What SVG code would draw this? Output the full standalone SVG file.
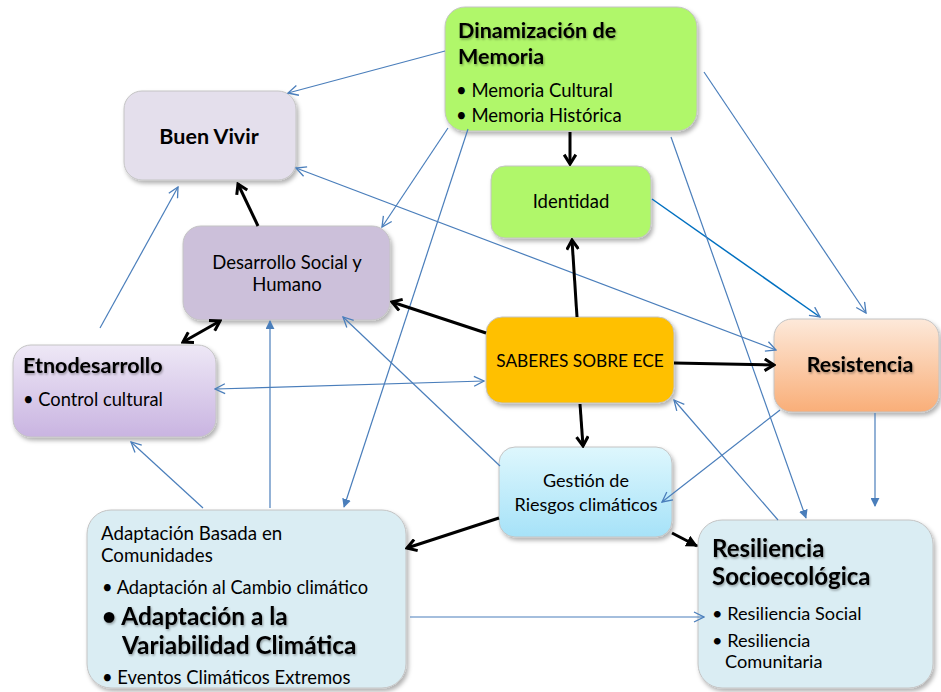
<svg xmlns="http://www.w3.org/2000/svg" width="941" height="692" viewBox="0 0 941 692">
<defs>
<style>
.t{font-family:Lato,"Liberation Sans",sans-serif;fill:#000;}
.b{font-weight:bold;}
.node{stroke:#c4c4c4;stroke-width:1;filter:url(#sh);}
.bl{stroke:#4a7ebb;stroke-width:1.2;fill:none;}
.bk{stroke:#000;stroke-width:3;fill:none;}
</style>
<filter id="sh" x="-10%" y="-10%" width="125%" height="130%">
<feDropShadow dx="2" dy="3" stdDeviation="2" flood-color="#000" flood-opacity="0.3"/>
</filter>
<filter id="ts" x="-5%" y="-20%" width="110%" height="150%">
<feDropShadow dx="1" dy="1.5" stdDeviation="1" flood-color="#000" flood-opacity="0.35"/>
</filter>
<linearGradient id="gEt" x1="0" y1="0" x2="0" y2="1"><stop offset="0" stop-color="#eee8f6"/><stop offset="1" stop-color="#c9b4e1"/></linearGradient>
<linearGradient id="gRe" x1="0" y1="0" x2="0" y2="1"><stop offset="0" stop-color="#fde9da"/><stop offset="1" stop-color="#f9ae78"/></linearGradient>
<linearGradient id="gGe" x1="0" y1="0" x2="0" y2="1"><stop offset="0" stop-color="#def7fd"/><stop offset="1" stop-color="#a6e2f8"/></linearGradient>
<marker id="ab" viewBox="0 0 12 12" refX="11" refY="6" markerWidth="12" markerHeight="12" markerUnits="userSpaceOnUse" orient="auto-start-reverse"><path d="M1,1 L11,6 L1,11" fill="none" stroke="#4a7ebb" stroke-width="1.3"/></marker>
<marker id="abf" viewBox="0 0 10 10" refX="9" refY="5" markerWidth="9" markerHeight="9" markerUnits="userSpaceOnUse" orient="auto-start-reverse"><path d="M0,0 L10,5 L0,10 Z" fill="#4a7ebb"/></marker>
<marker id="ak" viewBox="0 0 12 12" refX="10" refY="6" markerWidth="14" markerHeight="14" markerUnits="userSpaceOnUse" orient="auto-start-reverse"><path d="M2,1 L10,6 L2,11" fill="none" stroke="#000" stroke-width="2.6"/></marker>
<marker id="akf" viewBox="0 0 10 10" refX="9" refY="5" markerWidth="12" markerHeight="12" markerUnits="userSpaceOnUse" orient="auto-start-reverse"><path d="M0,0 L10,5 L0,10 Z" fill="#000"/></marker>
</defs>
<rect width="941" height="692" fill="#fff"/>

<g id="dinamizacion">
<rect class="node" x="445" y="7" width="252" height="124" rx="20" fill="#b0f76b"/>
<text class="t b" x="458" y="38" font-size="21.5" filter="url(#ts)">Dinamización de</text>
<text class="t b" x="458" y="64" font-size="21.5" filter="url(#ts)">Memoria</text>
<text class="t" x="456" y="97" font-size="18.5">• Memoria Cultural</text>
<text class="t" x="456" y="122" font-size="18.5">• Memoria Histórica</text>
</g>

<g id="buenvivir">
<rect class="node" x="124" y="91" width="172" height="89" rx="18" fill="#e4dfec"/>
<text class="t b" x="209" y="144" font-size="21.5" text-anchor="middle">Buen Vivir</text>
</g>

<g id="identidad">
<rect class="node" x="491" y="166" width="160" height="72" rx="14" fill="#b0f76b"/>
<text class="t" x="571" y="208" font-size="18.5" text-anchor="middle">Identidad</text>
</g>

<g id="desarrollo">
<rect class="node" x="183" y="226" width="207" height="94" rx="18" fill="#ccc0da"/>
<text class="t" x="287" y="269" font-size="18.5" text-anchor="middle">Desarrollo Social y</text>
<text class="t" x="287" y="291" font-size="18.5" text-anchor="middle">Humano</text>
</g>

<g id="etnodesarrollo">
<rect class="node" x="13" y="345" width="203" height="92" rx="18" fill="url(#gEt)"/>
<text class="t b" x="23" y="373" font-size="21.5" filter="url(#ts)">Etnodesarrollo</text>
<text class="t" x="23" y="406" font-size="18.3">• Control cultural</text>
</g>

<g id="saberes">
<rect class="node" x="486" y="317" width="188" height="86" rx="16" fill="#ffc000"/>
<text class="t" x="580" y="367" font-size="17.3" text-anchor="middle">SABERES SOBRE ECE</text>
</g>

<g id="resistencia">
<rect class="node" x="774" y="319" width="165" height="93" rx="18" fill="url(#gRe)"/>
<text class="t b" x="860" y="372" font-size="21.4" text-anchor="middle" filter="url(#ts)">Resistencia</text>
</g>

<g id="gestion">
<rect class="node" x="499" y="447" width="173" height="90" rx="16" fill="url(#gGe)"/>
<text class="t" x="586" y="487" font-size="18" text-anchor="middle">Gestión de</text>
<text class="t" x="586" y="511" font-size="18" text-anchor="middle">Riesgos climáticos</text>
</g>

<g id="adaptacion">
<rect class="node" x="87" y="510" width="319" height="178" rx="24" fill="#daedf3"/>
<text class="t" x="101" y="540" font-size="18.7">Adaptación Basada en</text>
<text class="t" x="101" y="562" font-size="18.7">Comunidades</text>
<text class="t" x="102" y="594" font-size="18.3">• Adaptación al Cambio climático</text>
<text class="t b" x="102" y="625" font-size="24.4" filter="url(#ts)">• Adaptación a la</text>
<text class="t b" x="122" y="654" font-size="24.4" filter="url(#ts)">Variabilidad Climática</text>
<text class="t" x="102" y="684" font-size="18.4">• Eventos Climáticos Extremos</text>
</g>

<g id="resiliencia">
<rect class="node" x="698" y="520" width="235" height="168" rx="24" fill="#daedf3"/>
<text class="t b" x="712" y="557" font-size="24" filter="url(#ts)">Resiliencia</text>
<text class="t b" x="712" y="585" font-size="24" filter="url(#ts)">Socioecológica</text>
<text class="t" x="712" y="620" font-size="18.2">• Resiliencia Social</text>
<text class="t" x="712" y="647" font-size="18.2">• Resiliencia</text>
<text class="t" x="725" y="668" font-size="18.2">Comunitaria</text>
</g>

<g id="connectors">
<line class="bl" x1="445" y1="51" x2="288" y2="93" marker-end="url(#ab)"/>
<line class="bl" x1="448" y1="128" x2="382" y2="227" marker-end="url(#ab)"/>
<line class="bl" x1="468" y1="129" x2="344" y2="507" marker-end="url(#abf)"/>
<line class="bl" x1="296" y1="168" x2="776" y2="350" marker-start="url(#ab)" marker-end="url(#ab)"/>
<line class="bl" x1="704" y1="72" x2="866" y2="313" marker-end="url(#ab)"/>
<line x1="652" y1="199" x2="820" y2="317" stroke="#0070c0" stroke-width="1.5" fill="none" marker-end="url(#ab)"/>
<line class="bl" x1="671" y1="137" x2="806" y2="518" marker-end="url(#abf)"/>
<line class="bl" x1="778" y1="520" x2="674" y2="400" marker-end="url(#ab)"/>
<line class="bl" x1="875" y1="413" x2="875" y2="506" marker-end="url(#abf)"/>
<line class="bl" x1="780" y1="410" x2="662" y2="502" marker-end="url(#ab)"/>
<line class="bl" x1="500" y1="466" x2="343" y2="317" marker-end="url(#ab)"/>
<line class="bl" x1="215" y1="389" x2="484" y2="381" marker-start="url(#ab)" marker-end="url(#ab)"/>
<line class="bl" x1="100" y1="328" x2="178" y2="187" marker-end="url(#ab)"/>
<line class="bl" x1="203" y1="508" x2="131" y2="442" marker-end="url(#ab)"/>
<line class="bl" x1="270" y1="508" x2="270" y2="321" marker-end="url(#abf)"/>
<line class="bl" x1="410" y1="617" x2="704" y2="617" marker-end="url(#ab)"/>

<line class="bk" x1="570" y1="132" x2="570" y2="164" marker-end="url(#ak)"/>
<line class="bk" x1="577" y1="317" x2="572" y2="240" marker-end="url(#ak)"/>
<line class="bk" x1="486" y1="333" x2="392" y2="302" marker-end="url(#ak)"/>
<line class="bk" x1="258" y1="226" x2="238" y2="184" marker-end="url(#ak)"/>
<line class="bk" x1="183" y1="342" x2="220" y2="321" marker-start="url(#ak)" marker-end="url(#ak)"/>
<line class="bk" x1="674" y1="363" x2="774" y2="365" marker-end="url(#ak)"/>
<line class="bk" x1="580" y1="404" x2="583" y2="446" marker-end="url(#ak)"/>
<line class="bk" x1="499" y1="518" x2="407" y2="548" marker-end="url(#ak)"/>
<line class="bk" x1="672" y1="533" x2="697" y2="546" marker-end="url(#akf)"/>
</g>
</svg>
